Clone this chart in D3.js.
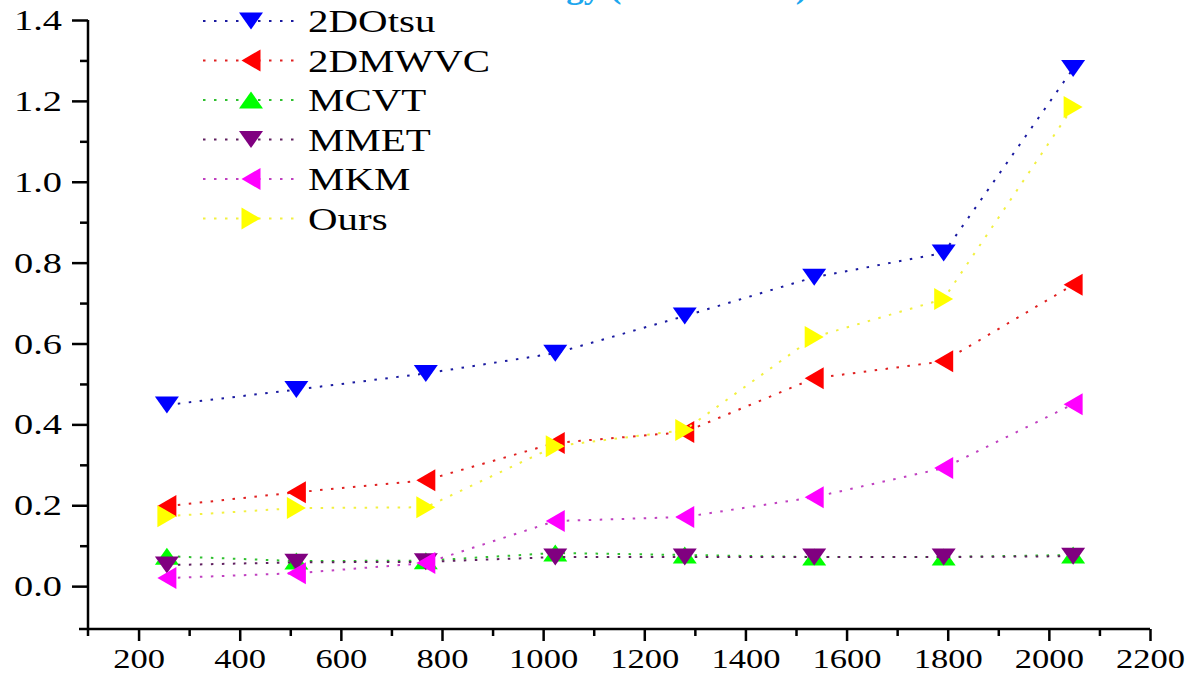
<!DOCTYPE html>
<html>
<head>
<meta charset="utf-8">
<script src="https://cdn.jsdelivr.net/npm/d3@7"></script>
<style>
  html, body { margin: 0; padding: 0; background: #fff; }
  svg { display: block; }
  svg text { font-family: "Liberation Serif", "DejaVu Serif", serif; }
</style>
</head>
<body>
<svg id="chart" width="1192" height="674"></svg>
<script>
// ---- data ----
const sizes = [256, 512, 768, 1024, 1280, 1536, 1792, 2048];
const seriesNames = ["2DOtsu", "2DMWVC", "MCVT", "MMET", "MKM", "Ours"];
const otsu2d  = [0.448, 0.486, 0.526, 0.576, 0.668, 0.764, 0.824, 1.280];
const mwvc2d  = [0.198, 0.232, 0.262, 0.354, 0.381, 0.514, 0.556, 0.745];
const mcvt    = [0.074, 0.062, 0.063, 0.082, 0.077, 0.072, 0.072, 0.077];
const mmet    = [0.052, 0.059, 0.060, 0.072, 0.072, 0.072, 0.072, 0.074];
const mkm     = [0.020, 0.032, 0.057, 0.161, 0.171, 0.220, 0.292, 0.450];
const ours    = [0.173, 0.193, 0.195, 0.346, 0.386, 0.616, 0.710, 1.185];
const yTicks = [0.0, 0.2, 0.4, 0.6, 0.8, 1.0, 1.2, 1.4];
const yMinorTicks = [0.1, 0.3, 0.5, 0.7, 0.9, 1.1, 1.3];
const xTicks = [200, 400, 600, 800, 1000, 1200, 1400, 1600, 1800, 2000, 2200];
const xMinorTicks = [300, 500, 700, 900, 1100, 1300, 1500, 1700, 1900, 2100];
const titleText = "Energy (Normalized)";

const seriesValues = [otsu2d, mwvc2d, mcvt, mmet, mkm, ours];
const seriesColors = ["#0000ff", "#ff0000", "#00ff00", "#800080", "#ff00ff", "#ffff00"];
const lineColors   = ["#1a1aa0", "#e02020", "#30c030", "#602060", "#c040c0", "#f2f040"];
const seriesShapes = ["down", "left", "up", "down", "left", "right"];

const SX = 1.28; // horizontal stretch of the text in the original figure
const Y_MIN = -0.106;

// ---- scales ----
const svg = d3.select("#chart");
const x = d3.scaleLinear().domain([100, 2200]).range([88, 1150]);
const y = d3.scaleLinear().domain([Y_MIN, 1.4]).range([629, 20]);

function tri(shape) {
  let pts;
  if (shape === "down")  { const w = 24, h = 17; pts = [[-w/2,-h/2],[w/2,-h/2],[0,h/2]]; }
  if (shape === "up")    { const w = 24, h = 17; pts = [[-w/2,h/2],[w/2,h/2],[0,-h/2]]; }
  if (shape === "left")  { const w = 19, h = 22; pts = [[w/2,-h/2],[w/2,h/2],[-w/2,0]]; }
  if (shape === "right") { const w = 19, h = 22; pts = [[-w/2,-h/2],[-w/2,h/2],[w/2,0]]; }
  return "M" + pts.map(p => p.join(",")).join("L") + "Z";
}

function stretch(sel) {
  sel.each(function() {
    const t = d3.select(this);
    const xv = +t.attr("x") || 0;
    t.attr("x", xv / SX).attr("transform", `scale(${SX},1)`);
  });
}

// ---- title (cropped at the top) ----
svg.append("text")
  .attr("transform", `translate(650,-2) scale(1.09,1)`)
  .attr("text-anchor", "middle")
  .attr("fill", "#1ea7ee")
  .style("font-size", "32px")
  .style("font-weight", "bold")
  .text(titleText);

// ---- axes ----
const axG = svg.append("g");
axG.append("line")
  .attr("x1", x(100)).attr("x2", x(100))
  .attr("y1", y(1.4)).attr("y2", y(Y_MIN) + 7)
  .attr("stroke", "#000").attr("stroke-width", 2.5);
axG.append("line")
  .attr("x1", x(100) - 9).attr("x2", x(2200))
  .attr("y1", y(Y_MIN)).attr("y2", y(Y_MIN))
  .attr("stroke", "#000").attr("stroke-width", 2.5);

const yAxis = d3.axisLeft(y).tickValues(yTicks).tickSize(16).tickPadding(10)
  .tickFormat(d3.format(".1f"));
const yg = axG.append("g").attr("transform", `translate(${x(100)},0)`).call(yAxis);
yg.attr("font-family", null).attr("font-size", null);
yg.select(".domain").remove();
yg.selectAll(".tick line").attr("stroke-width", 2.5);
yg.selectAll(".tick text").style("font-size", "30px").attr("fill", "#000").call(stretch);

const yMinor = d3.axisLeft(y).tickValues(yMinorTicks).tickSize(8).tickFormat("");
const ymg = axG.append("g").attr("transform", `translate(${x(100)},0)`).call(yMinor);
ymg.select(".domain").remove();
ymg.selectAll(".tick line").attr("stroke-width", 2.5);

const xAxis = d3.axisBottom(x).tickValues(xTicks).tickSize(12).tickPadding(8)
  .tickFormat(d3.format("d"));
const xg = axG.append("g").attr("transform", `translate(0,${y(Y_MIN)})`).call(xAxis);
xg.attr("font-family", null).attr("font-size", null);
xg.select(".domain").remove();
xg.selectAll(".tick line").attr("stroke-width", 2.5);
xg.selectAll(".tick text").style("font-size", "27px").attr("fill", "#000").call(stretch);

const xMinor = d3.axisBottom(x).tickValues(xMinorTicks).tickSize(7).tickFormat("");
const xmg = axG.append("g").attr("transform", `translate(0,${y(Y_MIN)})`).call(xMinor);
xmg.select(".domain").remove();
xmg.selectAll(".tick line").attr("stroke-width", 2.5);

// ---- series ----
const line = d3.line().x(d => x(d[0])).y(d => y(d[1]));
seriesNames.forEach((name, i) => {
  const pts = sizes.map((s, j) => [s, seriesValues[i][j]]);
  const g = svg.append("g");
  g.append("path").datum(pts)
    .attr("d", line)
    .attr("fill", "none")
    .attr("stroke", lineColors[i])
    .attr("stroke-width", 2)
    .attr("stroke-dasharray", "2.5,8.5");
  g.selectAll("path.m").data(pts).enter().append("path")
    .attr("class", "m")
    .attr("transform", d => `translate(${x(d[0])},${y(d[1])})`)
    .attr("d", tri(seriesShapes[i]))
    .attr("fill", seriesColors[i]);
});

// ---- legend ----
const legend = svg.append("g");
seriesNames.forEach((name, i) => {
  const ly = 21 + i * 39.5;
  legend.append("line")
    .attr("x1", 203).attr("x2", 298).attr("y1", ly).attr("y2", ly)
    .attr("stroke", lineColors[i]).attr("stroke-width", 2)
    .attr("stroke-dasharray", "2.5,8.5");
  legend.append("path")
    .attr("transform", `translate(251,${ly})`)
    .attr("d", tri(seriesShapes[i]))
    .attr("fill", seriesColors[i]);
  legend.append("text")
    .attr("transform", `translate(308,${ly}) scale(${SX},1)`)
    .attr("dy", "0.35em")
    .style("font-size", "32px")
    .attr("fill", "#000")
    .text(name);
});
</script>
</body>
</html>
